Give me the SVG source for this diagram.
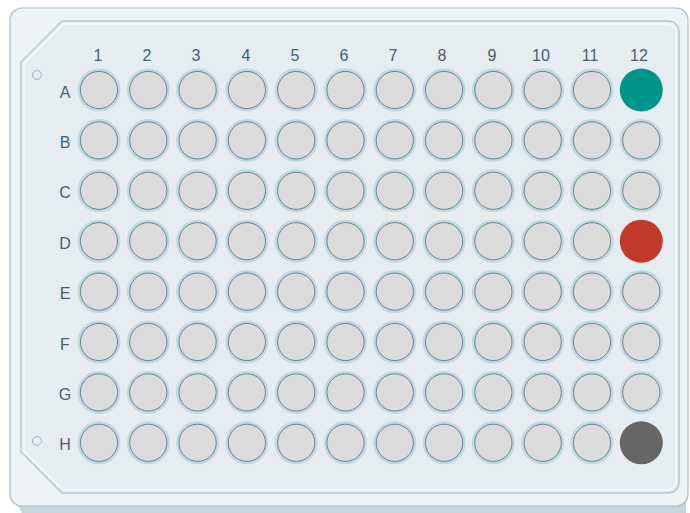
<svg xmlns="http://www.w3.org/2000/svg" width="690" height="513" viewBox="0 0 690 513">
<defs>
<style>
.lbl{font-family:"Liberation Sans",Arial,sans-serif;font-size:16px;fill:#3f6078;text-anchor:middle}
.halo{fill:#dcdbdb;stroke:#c2d8e0;stroke-width:3}
.rim{fill:none;stroke:#68838f;stroke-width:1}
.dot{fill:none;stroke:#a9b6bd;stroke-width:1}
</style>
<g id="well">
<circle r="20" class="halo"/>
<circle r="18.6" class="rim"/>
</g>
</defs>
<g id="plate">
<path d="M14,498 L22,513 L686,513 L686,498 Z" fill="#c6d5dc"/>
<rect x="10" y="8" width="678" height="498" rx="12" fill="#edf2f4" stroke="#a8bbc5" stroke-width="1.2"/>
<path d="M62,21 L667,21 Q679,21 679,33 L679,481 Q679,493 667,493 L62,493 L21,452 L21,62 Z" fill="#e5edf1" stroke="#b5c9d2" stroke-width="1.5"/>
<path d="M63.5,24 L666,24 Q676,24 676,34 L676,480 Q676,490 666,490 L63.5,490 L24,450.5 L24,63.5 Z" fill="none" stroke="#f6f9fa" stroke-width="1.5"/>
<circle cx="37" cy="75" r="4.5" class="dot"/>
<circle cx="37" cy="441" r="4.5" class="dot"/>
</g>
<g id="column-labels">
<text class="lbl" x="98" y="61">1</text>
<text class="lbl" x="147" y="61">2</text>
<text class="lbl" x="196" y="61">3</text>
<text class="lbl" x="246" y="61">4</text>
<text class="lbl" x="295" y="61">5</text>
<text class="lbl" x="344" y="61">6</text>
<text class="lbl" x="393" y="61">7</text>
<text class="lbl" x="442" y="61">8</text>
<text class="lbl" x="492" y="61">9</text>
<text class="lbl" x="541" y="61">10</text>
<text class="lbl" x="590" y="61">11</text>
<text class="lbl" x="639" y="61">12</text>
</g>
<g id="row-labels">
<text class="lbl" x="65" y="98">A</text>
<text class="lbl" x="65" y="148">B</text>
<text class="lbl" x="65" y="198">C</text>
<text class="lbl" x="65" y="249">D</text>
<text class="lbl" x="65" y="299">E</text>
<text class="lbl" x="65" y="350">F</text>
<text class="lbl" x="65" y="400">G</text>
<text class="lbl" x="65" y="450">H</text>
</g>
<g id="wells">
<use href="#well" x="99" y="90"/><use href="#well" x="148.3" y="90"/><use href="#well" x="197.6" y="90"/><use href="#well" x="246.9" y="90"/><use href="#well" x="296.2" y="90"/><use href="#well" x="345.5" y="90"/><use href="#well" x="394.8" y="90"/><use href="#well" x="444.1" y="90"/><use href="#well" x="493.4" y="90"/><use href="#well" x="542.7" y="90"/><use href="#well" x="592" y="90"/>
<use href="#well" x="99" y="140.4"/><use href="#well" x="148.3" y="140.4"/><use href="#well" x="197.6" y="140.4"/><use href="#well" x="246.9" y="140.4"/><use href="#well" x="296.2" y="140.4"/><use href="#well" x="345.5" y="140.4"/><use href="#well" x="394.8" y="140.4"/><use href="#well" x="444.1" y="140.4"/><use href="#well" x="493.4" y="140.4"/><use href="#well" x="542.7" y="140.4"/><use href="#well" x="592" y="140.4"/><use href="#well" x="641.3" y="140.4"/>
<use href="#well" x="99" y="190.8"/><use href="#well" x="148.3" y="190.8"/><use href="#well" x="197.6" y="190.8"/><use href="#well" x="246.9" y="190.8"/><use href="#well" x="296.2" y="190.8"/><use href="#well" x="345.5" y="190.8"/><use href="#well" x="394.8" y="190.8"/><use href="#well" x="444.1" y="190.8"/><use href="#well" x="493.4" y="190.8"/><use href="#well" x="542.7" y="190.8"/><use href="#well" x="592" y="190.8"/><use href="#well" x="641.3" y="190.8"/>
<use href="#well" x="99" y="241.2"/><use href="#well" x="148.3" y="241.2"/><use href="#well" x="197.6" y="241.2"/><use href="#well" x="246.9" y="241.2"/><use href="#well" x="296.2" y="241.2"/><use href="#well" x="345.5" y="241.2"/><use href="#well" x="394.8" y="241.2"/><use href="#well" x="444.1" y="241.2"/><use href="#well" x="493.4" y="241.2"/><use href="#well" x="542.7" y="241.2"/><use href="#well" x="592" y="241.2"/>
<use href="#well" x="99" y="291.6"/><use href="#well" x="148.3" y="291.6"/><use href="#well" x="197.6" y="291.6"/><use href="#well" x="246.9" y="291.6"/><use href="#well" x="296.2" y="291.6"/><use href="#well" x="345.5" y="291.6"/><use href="#well" x="394.8" y="291.6"/><use href="#well" x="444.1" y="291.6"/><use href="#well" x="493.4" y="291.6"/><use href="#well" x="542.7" y="291.6"/><use href="#well" x="592" y="291.6"/><use href="#well" x="641.3" y="291.6"/>
<use href="#well" x="99" y="342"/><use href="#well" x="148.3" y="342"/><use href="#well" x="197.6" y="342"/><use href="#well" x="246.9" y="342"/><use href="#well" x="296.2" y="342"/><use href="#well" x="345.5" y="342"/><use href="#well" x="394.8" y="342"/><use href="#well" x="444.1" y="342"/><use href="#well" x="493.4" y="342"/><use href="#well" x="542.7" y="342"/><use href="#well" x="592" y="342"/><use href="#well" x="641.3" y="342"/>
<use href="#well" x="99" y="392.4"/><use href="#well" x="148.3" y="392.4"/><use href="#well" x="197.6" y="392.4"/><use href="#well" x="246.9" y="392.4"/><use href="#well" x="296.2" y="392.4"/><use href="#well" x="345.5" y="392.4"/><use href="#well" x="394.8" y="392.4"/><use href="#well" x="444.1" y="392.4"/><use href="#well" x="493.4" y="392.4"/><use href="#well" x="542.7" y="392.4"/><use href="#well" x="592" y="392.4"/><use href="#well" x="641.3" y="392.4"/>
<use href="#well" x="99" y="442.8"/><use href="#well" x="148.3" y="442.8"/><use href="#well" x="197.6" y="442.8"/><use href="#well" x="246.9" y="442.8"/><use href="#well" x="296.2" y="442.8"/><use href="#well" x="345.5" y="442.8"/><use href="#well" x="394.8" y="442.8"/><use href="#well" x="444.1" y="442.8"/><use href="#well" x="493.4" y="442.8"/><use href="#well" x="542.7" y="442.8"/><use href="#well" x="592" y="442.8"/>
</g>
<g id="filled-wells">
<circle id="A12" cx="641.3" cy="90" r="21.5" fill="#00958a"/>
<circle id="D12" cx="641.3" cy="241.2" r="21.5" fill="#c0392b"/>
<circle id="H12" cx="641.3" cy="442.8" r="21.5" fill="#666666"/>
</g>
</svg>
